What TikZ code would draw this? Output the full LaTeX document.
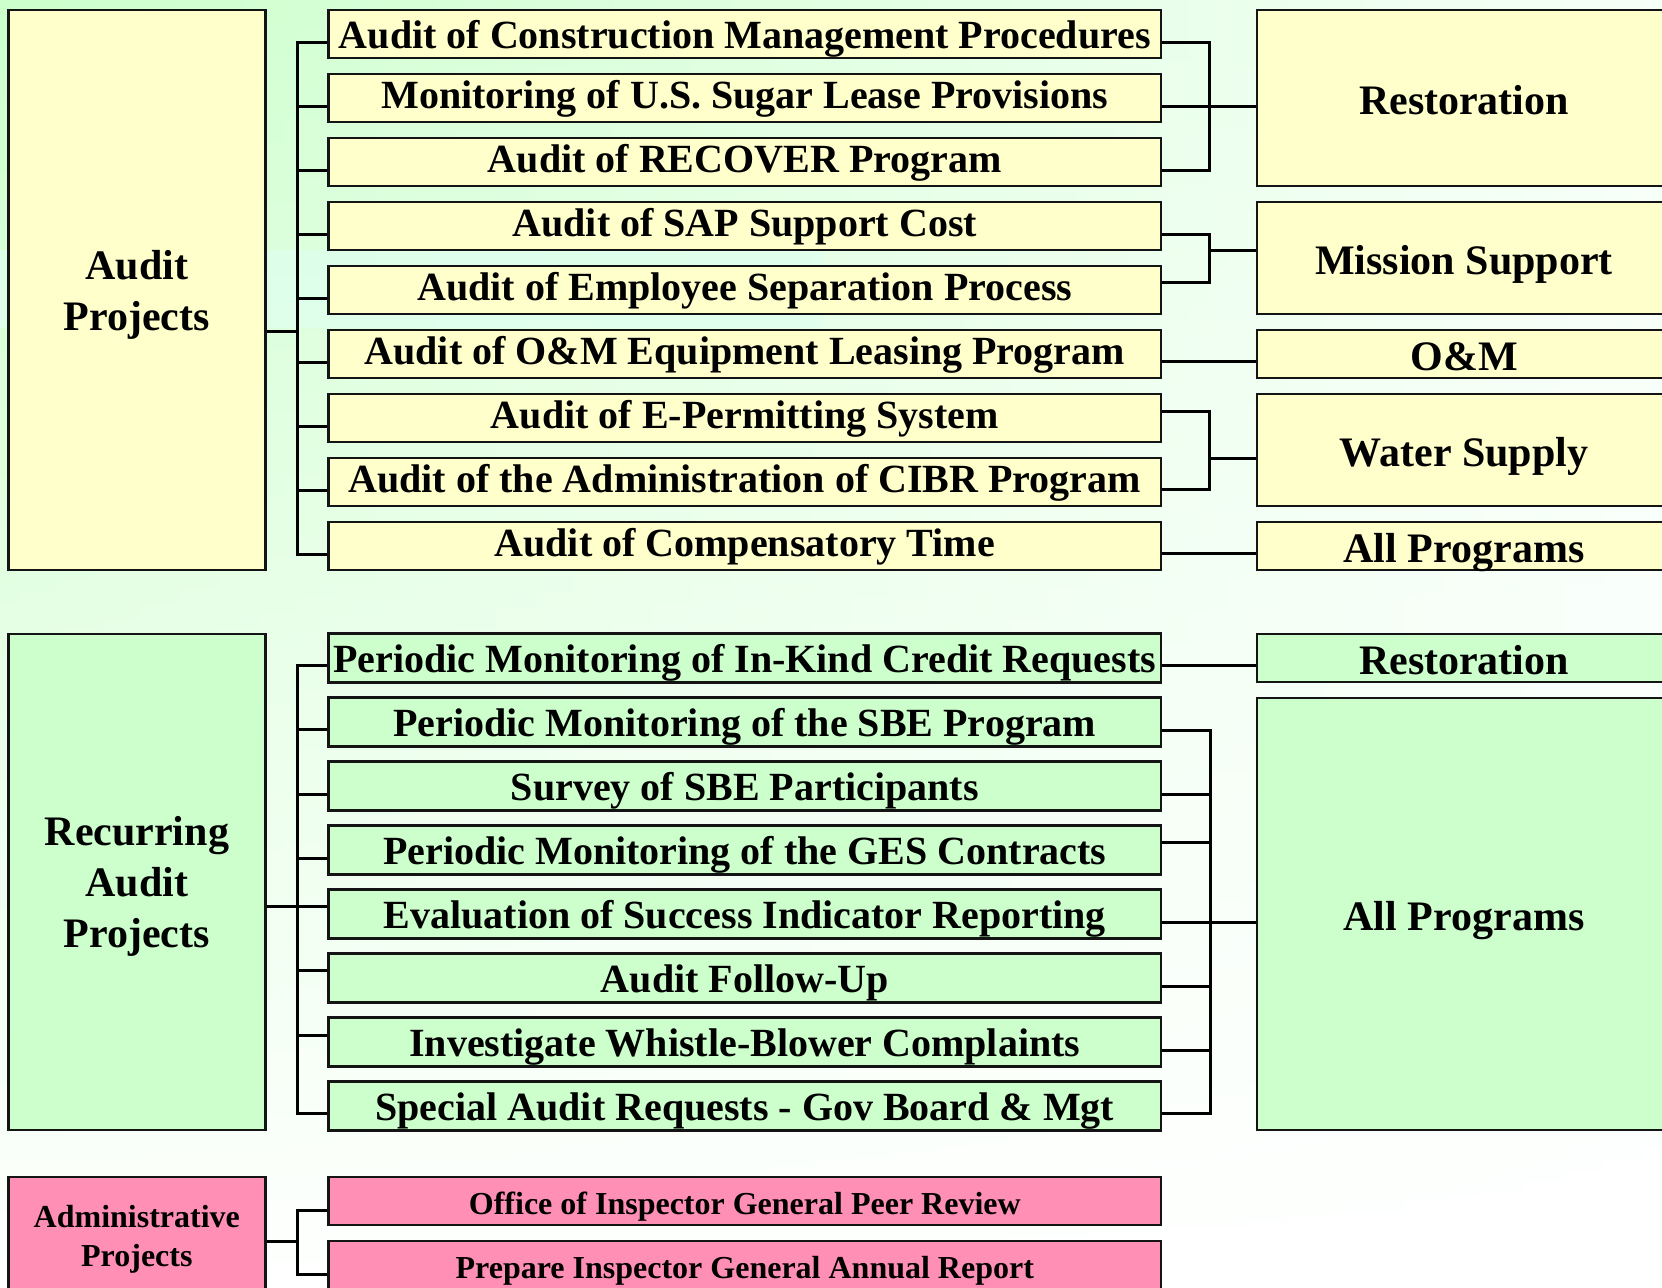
\documentclass[tikz,border=0pt]{standalone}
\usepackage{fontspec}
\setmainfont{Liberation Serif}
\usetikzlibrary{calc,fadings}

\definecolor{boxyellow}{HTML}{FFFFCC}
\definecolor{boxgreen}{HTML}{CCFFCC}
\definecolor{boxpink}{HTML}{FF8FB4}
\definecolor{bgleft}{HTML}{CCFFCC}
\definecolor{bgmid}{HTML}{E2FFE4}
\definecolor{bgright}{HTML}{F6FFF8}
\definecolor{bgband}{HTML}{D6FFEC}
\definecolor{edge}{HTML}{141414}

\begin{document}
\begin{tikzpicture}[x=0.5pt, y=-0.5pt,
  conn/.style={line width=1.5pt, draw=black},
  box/.style={draw=edge, line width=1.4pt, inner sep=0pt, align=center},
  item/.style={box, minimum width=416.2pt, minimum height=24pt,
    text height=15pt, text depth=5pt, font=\fontsize{20}{24}\selectfont\bfseries},
  smallitem/.style={box, minimum width=416.2pt, minimum height=24pt,
    text height=17.3pt, text depth=4pt, font=\fontsize{16}{19.5}\selectfont\bfseries},
  group/.style={box, minimum width=128.45pt, text depth=0pt,
    font=\fontsize{21}{25.5}\selectfont\bfseries},
  smallgroup/.style={box, minimum width=128.45pt, text depth=0pt,
    font=\fontsize{16}{19.5}\selectfont\bfseries},
  area/.style={box, minimum width=207pt, text height=18.9pt, text depth=2.1pt,
    font=\fontsize{21}{25}\selectfont\bfseries},
  ye/.style={fill=boxyellow}, gr/.style={fill=boxgreen, text height=19.5pt},
  pk/.style={fill=boxpink}]

\useasboundingbox (0,0) rectangle (1662,1287);

% background wash: green at the upper left, fading to white
\fill[white] (0,0) rectangle (1662,1287);
\shade[left color=bgleft, middle color=bgmid, right color=bgright] (0,0) rectangle (1662,1287);
\fill[bgband, opacity=0.7] (0,250) rectangle (823,328);
\fill[white, path fading=north] (0,0) rectangle (1662,1287);

\begin{scope}
\clip (0,0) rectangle (1662,1287);

% ---------------- audit projects ----------------
\node[group, ye, minimum height=280pt] (ap) at (136.85,290) {Audit\\Projects};

\node[item, ye, text height=19pt] (a0) at (744.8,34)  {Audit of Construction Management Procedures};
\node[item, ye] (a1) at (744.8,98)  {Monitoring of U.S. Sugar Lease Provisions};
\node[item, ye] (a2) at (744.8,162) {Audit of RECOVER Program};
\node[item, ye] (a3) at (744.8,226) {Audit of SAP Support Cost};
\node[item, ye] (a4) at (744.8,290) {Audit of Employee Separation Process};
\node[item, ye] (a5) at (744.8,354) {Audit of O\&M Equipment Leasing Program};
\node[item, ye] (a6) at (744.8,418) {Audit of E-Permitting System};
\node[item, ye] (a7) at (744.8,482) {Audit of the Administration of CIBR Program};
\node[item, ye] (a8) at (744.8,546) {Audit of Compensatory Time};

\node[area, ye, minimum height=88pt] (restA)  at (1464,98)  {Restoration};
\node[area, ye, minimum height=56pt] (miss)   at (1464,258) {Mission Support};
\node[area, ye, minimum height=24pt] (om)     at (1464,354) {O\&M};
\node[area, ye, minimum height=56pt] (water)  at (1464,450) {Water Supply};
\node[area, ye, minimum height=24pt] (allA)   at (1464,546) {All Programs};

% ---------------- recurring audit projects ----------------
\node[group, fill=boxgreen, minimum height=248pt] (rp) at (136.85,882) {Recurring\\Audit\\Projects};

\node[item, gr] (b0) at (744.8,658)  {Periodic Monitoring of In-Kind Credit Requests};
\node[item, gr] (b1) at (744.8,722)  {Periodic Monitoring of the SBE Program};
\node[item, gr] (b2) at (744.8,786)  {Survey of SBE Participants};
\node[item, gr] (b3) at (744.8,850)  {Periodic Monitoring of the GES Contracts};
\node[item, gr] (b4) at (744.8,914)  {Evaluation of Success Indicator Reporting};
\node[item, gr] (b5) at (744.8,978)  {Audit Follow-Up};
\node[item, gr] (b6) at (744.8,1042) {Investigate Whistle-Blower Complaints};
\node[item, gr] (b7) at (744.8,1106) {Special Audit Requests - Gov Board \& Mgt};

\node[area, fill=boxgreen, minimum height=24pt]  (restB) at (1464,658) {Restoration};
\node[area, fill=boxgreen, minimum height=216pt] (allB)  at (1464,914) {All Programs};

% ---------------- administrative projects ----------------
\node[smallgroup, pk, minimum height=58.5pt] (adm) at (136.85,1235.5) {Administrative\\Projects};
\node[smallitem, pk] (c0) at (744.8,1201) {Office of Inspector General Peer Review};
\node[smallitem, pk] (c1) at (744.8,1265) {Prepare Inspector General Annual Report};

% ---------------- connectors: audit projects ----------------
\foreach \i in {0,...,8} \coordinate (la\i) at ($(a\i.west)+(0,8)$);
\coordinate (tA) at (297.7,331);
\draw[conn] (ap.east |- tA) -- (tA);
\draw[conn] (la0) -| (tA) |- (la8);
\foreach \i in {1,...,7} \draw[conn] (la\i) -- (tA |- la\i);

\foreach \i/\o in {0/8,1/8,2/8,3/8,4/-8,5/7,6/-7,7/7,8/7}
  \coordinate (ra\i) at ($(a\i.east)+(0,\o)$);
\coordinate (bR) at (1209,106);
\draw[conn] (ra0) -| (bR) |- (ra2);
\draw[conn] (ra1) -- (restA.west |- ra1);
\coordinate (bM) at (1209,250);
\draw[conn] (ra3) -| (bM) |- (ra4);
\draw[conn] (bM) -- (miss.west |- bM);
\draw[conn] (ra5) -- (om.west |- ra5);
\coordinate (bW) at (1209,458);
\draw[conn] (ra6) -| (bW) |- (ra7);
\draw[conn] (bW) -- (water.west |- bW);
\draw[conn] (ra8) -- (allA.west |- ra8);

% ---------------- connectors: recurring audit projects ----------------
\foreach \i/\o in {0/7,1/7,2/8,3/8,4/-7.3,5/-7.3,6/-7,7/7.3}
  \coordinate (lb\i) at ($(b\i.west)+(0,\o)$);
\coordinate (tR) at (297.7,906.7);
\draw[conn] (rp.east |- tR) -- (tR);
\draw[conn] (lb0) -| (tR) |- (lb7);
\foreach \i in {1,...,6} \draw[conn] (lb\i) -- (tR |- lb\i);

\foreach \i/\o in {0/7,1/8,2/8,3/-7.7,4/8.7,5/8.7,6/8,7/7.3}
  \coordinate (rb\i) at ($(b\i.east)+(0,\o)$);
\draw[conn] (rb0) -- (restB.west |- rb0);
\coordinate (bA) at (1210,922.7);
\draw[conn] (rb1) -| (bA) |- (rb7);
\foreach \i in {2,...,6} \draw[conn] (rb\i) -- (bA |- rb\i);
\draw[conn] (bA) -- (allB.west |- bA);

% ---------------- connectors: administrative projects ----------------
\coordinate (lc0) at ($(c0.west)+(0,9.7)$);
\coordinate (lc1) at ($(c1.west)+(0,9)$);
\coordinate (tP) at (297.7,1241.7);
\draw[conn] (adm.east |- tP) -- (tP);
\draw[conn] (lc0) -| (tP) |- (lc1);
\end{scope}
\end{tikzpicture}
\end{document}
